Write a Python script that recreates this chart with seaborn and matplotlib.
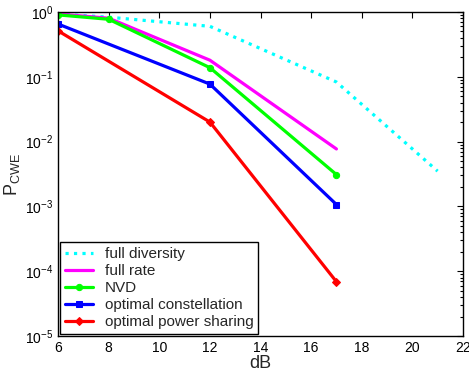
import numpy as np
import pandas as pd
import matplotlib
matplotlib.use("Agg")
import matplotlib.pyplot as plt
import seaborn as sns
from matplotlib.ticker import LogLocator, NullFormatter

# data
snr_full_div = [6, 8, 12, 17, 21]
p_full_div = [0.93, 0.83, 0.60, 0.083, 0.0035]

snr_full_rate = [6, 8, 12, 17]
p_full_rate = [0.93, 0.80, 0.18, 0.0077]

snr_nvd = [6, 8, 12, 17]
p_nvd = [0.90, 0.77, 0.138, 0.0031]

snr_opt_const = [6, 12, 17]
p_opt_const = [0.65, 0.077, 0.00107]

snr_opt_power = [6, 12, 17]
p_opt_power = [0.51, 0.020, 0.000069]

series = [
    ("full diversity", snr_full_div, p_full_div, "#00ffff", ":", None),
    ("full rate", snr_full_rate, p_full_rate, "#ff00ff", "-", None),
    ("NVD", snr_nvd, p_nvd, "#00ff00", "-", "o"),
    ("optimal constellation", snr_opt_const, p_opt_const, "#0000ff", "-", "s"),
    ("optimal power sharing", snr_opt_power, p_opt_power, "#ff0000", "-", "D"),
]

sns.set_style("white")
plt.rcParams["font.family"] = ["Liberation Sans", "DejaVu Sans"]
plt.rcParams["mathtext.default"] = "regular"

fig = plt.figure(figsize=(4.69, 3.73), dpi=100)
ax = fig.add_axes([0.124, 0.099, 0.863, 0.869])

for name, x, y, color, ls, marker in series:
    df = pd.DataFrame({"dB": x, "P": y})
    sns.lineplot(data=df, x="dB", y="P", ax=ax, color=color, linestyle=ls,
                 linewidth=2.3, marker=marker, markersize=4.5,
                 markeredgecolor=color, label=name)

ax.set_yscale("log")
ax.set_xlim(6, 22)
ax.set_ylim(1e-5, 1)
ax.set_xticks(range(6, 23, 2))
ax.yaxis.set_major_locator(LogLocator(base=10, numticks=10))
ax.yaxis.set_minor_locator(LogLocator(base=10, subs=np.arange(2, 10), numticks=20))
ax.yaxis.set_minor_formatter(NullFormatter())
ax.tick_params(which="both", direction="in", top=True, right=True,
               labelsize=10, length=4, width=0.8, colors="black")
ax.tick_params(which="minor", length=2)
for sp in ax.spines.values():
    sp.set_color("black")
    sp.set_linewidth(1.0)

ax.set_xlabel("dB", fontsize=13, labelpad=0)
ax.set_ylabel("P$_{CWE}$", fontsize=13, labelpad=2)

leg = ax.legend(loc="lower left", fontsize=11, fancybox=False, framealpha=1,
                edgecolor="black", borderaxespad=0.15, handlelength=1.8,
                labelspacing=0.2, borderpad=0.3, handletextpad=0.8)
leg.get_frame().set_linewidth(1.0)

fig.savefig("out.png", dpi=100)
